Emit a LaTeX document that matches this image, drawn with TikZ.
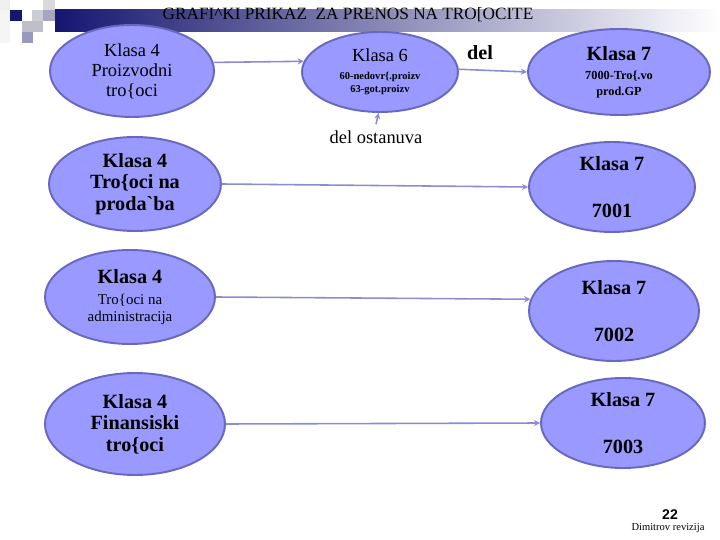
\documentclass[tikz,border=0pt]{standalone}
\usepackage{fontspec}
\setmainfont{Liberation Serif}
\newfontfamily\arialfont{Liberation Sans}
\usetikzlibrary{shapes.geometric,arrows.meta}
\definecolor{klasafill}{RGB}{153,153,255}
\definecolor{klasarab}{RGB}{104,104,190}
\definecolor{strelkaboja}{RGB}{140,140,210}
\definecolor{banerboja}{RGB}{22,22,112}
\newcommand\golem{\fontsize{11.5}{12.3}\selectfont\bfseries}
\newcommand\sreden{\fontsize{10.5}{11.3}\selectfont\mdseries}
\newcommand\sitno{\fontsize{6}{7.4}\selectfont\bfseries}

\begin{document}
\begin{tikzpicture}[x=0.02cm,y=-0.02cm,
  klasa/.style={ellipse,draw=klasarab,line width=1.1pt,fill=klasafill,inner sep=0pt,align=center},
  strelka/.style={draw=strelkaboja,line width=0.9pt,-{Stealth[length=3.5pt,width=3.5pt]}}]
\useasboundingbox (0,0) rectangle (720,540);
% baner gore levo
\fill[left color=banerboja,right color=white] (55,10) rectangle (720,32);
\fill[black!6] (0,0) rectangle (10,10);
\fill[black!4] (0,10) rectangle (10,43);
\fill[banerboja] (10,10) rectangle (22,21);
\fill[blue!20!black!20] (32,10) rectangle (43,21);
\fill[blue!10!black!15] (43,0) rectangle (55,10);
\fill[blue!30!black!35] (43,10) rectangle (55,21);
\fill[blue!15!black!25] (22,21) rectangle (43,32);
\fill[blue!35!black!40] (22,32) rectangle (33,43);
\node[font=\fontsize{9.8}{11}\selectfont] (naslov) at (348,15) {GRAFI\textasciicircum KI PRIKAZ\ \ ZA PRENOS NA TRO[OCITE};
% goren red
\node[klasa,minimum width=3.28cm,minimum height=1.84cm,font=\sreden] (proizv) at (132,71) {Klasa 4\\Proizvodni\\tro\{oci};
\node[klasa,minimum width=3.12cm,minimum height=1.6cm,font=\sitno] (k6) at (380,72) {\sreden Klasa 6\\[3pt]\sitno 60-nedovr\{.proizv\\\sitno 63-got.proizv};
\node[klasa,minimum width=3.64cm,minimum height=1.72cm,font=\fontsize{7}{9}\selectfont\bfseries] (k7a) at (619,72) {\golem Klasa 7\\[2pt]\fontsize{7}{9}\selectfont\bfseries 7000-Tro\{.vo\\\fontsize{7}{9}\selectfont\bfseries prod.GP};
\node[font=\golem] (del) at (480,53) {del};
\node[font=\sreden] (ostanuva) at (376,137) {del ostanuva};
% levo
\node[klasa,minimum width=3.44cm,minimum height=1.88cm,font=\golem] (prodazba) at (135,184) {Klasa 4\\Tro\{oci na\\proda\textasciigrave ba};
\node[klasa,minimum width=3.4cm,minimum height=1.88cm,font=\fontsize{8.5}{9.6}\selectfont] (admin) at (130,297) {\golem Klasa 4\\[2pt]\fontsize{8.5}{9.6}\selectfont\mdseries Tro\{oci na\\\fontsize{8.5}{9.6}\selectfont\mdseries administracija};
\node[klasa,minimum width=3.6cm,minimum height=2.04cm,font=\golem] (finans) at (135,424) {Klasa 4\\Finansiski\\tro\{oci};
% desno
\node[klasa,minimum width=3.32cm,minimum height=1.8cm,font=\golem] (k7b) at (612,187) {Klasa 7\\[14pt]7001};
\node[klasa,minimum width=3.4cm,minimum height=2cm,font=\golem] (k7c) at (614,311) {Klasa 7\\[14pt]7002};
\node[klasa,minimum width=3.28cm,minimum height=1.8cm,font=\golem] (k7d) at (623,423) {Klasa 7\\[14pt]7003};
% strelki
\draw[strelka] (proizv.6) -- (k6.172);
\draw[strelka] (k6.2) -- (k7a.west);
\draw[strelka] (ostanuva.north) -- (k6.268);
\draw[strelka] (prodazba.east) -- (k7b.west);
\draw[strelka] (admin.east) -- (k7c.172);
\draw[strelka] (finans.east) -- (k7d.west);
% dolu desno
\node[font=\arialfont\fontsize{8}{9}\selectfont\bfseries] (broj) at (670,515) {22};
\node[font=\fontsize{6}{7}\selectfont] (avtor) at (668,528) {Dimitrov revizija};
\end{tikzpicture}
\end{document}
